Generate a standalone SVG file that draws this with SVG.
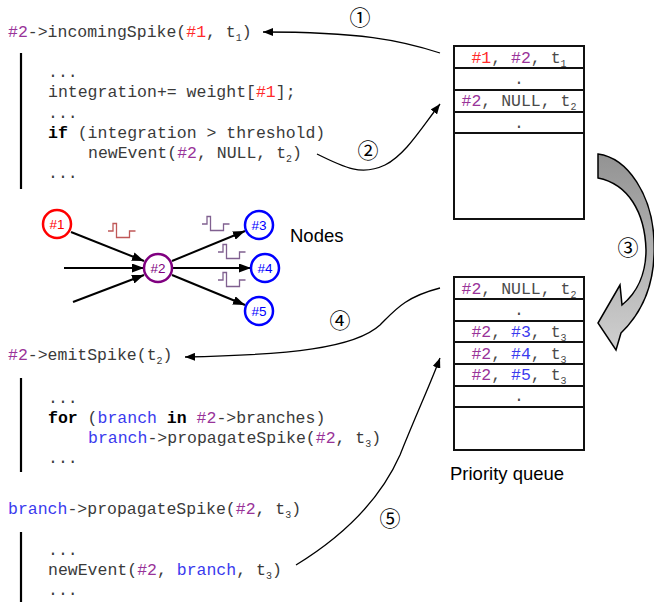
<svg xmlns="http://www.w3.org/2000/svg" width="654" height="602" viewBox="0 0 654 602">
<style>
.code{font-family:"Liberation Mono","DejaVu Sans Mono",monospace;font-size:16.5px;fill:#3a3a3a}
.q{font-family:"Liberation Mono","DejaVu Sans Mono",monospace;font-size:16.5px;fill:#4a4a4a;text-anchor:middle}
.p{fill:#993399}.r{fill:#ff2a2a}.b{fill:#3a3aee}.kw{font-weight:bold;fill:#000}
.sub{font-size:10px}
.bar{stroke:#000;stroke-width:2.2}
.qbox{fill:#fff;stroke:#111;stroke-width:2}
.conn{fill:none;stroke:#000;stroke-width:1.3}
.edge{fill:none;stroke:#000;stroke-width:2}
.num{font-family:"Noto Sans CJK JP","Noto Sans CJK SC","DejaVu Sans",sans-serif;font-size:21px;fill:#000;text-anchor:middle}
.lbl{font-family:"Liberation Sans",Arial,sans-serif;font-size:18.5px;fill:#000}
.nl{font-family:"Liberation Sans",Arial,sans-serif;font-size:13.5px;text-anchor:middle}
.spk{fill:none;stroke-width:1.3}
</style>
<defs>
<marker id="ah" markerWidth="10" markerHeight="8" refX="10" refY="4" orient="auto" markerUnits="userSpaceOnUse"><path d="M0,0 L10,4 L0,8 Z" fill="#000"/></marker>
<marker id="ah2" markerWidth="12" markerHeight="9" refX="12" refY="4.5" orient="auto" markerUnits="userSpaceOnUse"><path d="M0,0 L12,4.5 L0,9 Z" fill="#000"/></marker>
<linearGradient id="gg" x1="0" y1="0" x2="0" y2="1"><stop offset="0" stop-color="#939393"/><stop offset="1" stop-color="#cfcfcf"/></linearGradient>
<path id="spike" d="M0,0 h5 v-7.5 h3.5 v14 h13 v-6.5 h6"/>
</defs>

<g id="code1">
<text class="code" x="8" y="37"><tspan class="p">#2</tspan>-&gt;incomingSpike(<tspan class="r">#1</tspan>, t<tspan class="sub" dy="4">1</tspan><tspan dy="-4">)</tspan></text>
<line class="bar" x1="21" y1="53" x2="21" y2="189"/>
<text class="code" x="48" y="77">...</text>
<text class="code" x="48" y="97">integration+= weight[<tspan class="r">#1</tspan>];</text>
<text class="code" x="48" y="117.5">...</text>
<text class="code" x="48" y="138"><tspan class="kw">if</tspan> (integration &gt; threshold)</text>
<text class="code" x="88" y="158">newEvent(<tspan class="p">#2</tspan>, NULL, t<tspan class="sub" dy="4">2</tspan><tspan dy="-4">)</tspan></text>
<text class="code" x="48" y="178">...</text>
</g>

<g id="code2">
<text class="code" x="8" y="360"><tspan class="p">#2</tspan>-&gt;emitSpike(t<tspan class="sub" dy="4">2</tspan><tspan dy="-4">)</tspan></text>
<line class="bar" x1="21" y1="378" x2="21" y2="472"/>
<text class="code" x="48" y="403">...</text>
<text class="code" x="48" y="423"><tspan class="kw">for</tspan> (<tspan class="b">branch</tspan> <tspan class="kw">in</tspan> <tspan class="p">#2</tspan>-&gt;branches)</text>
<text class="code" x="88" y="443"><tspan class="b">branch</tspan>-&gt;propagateSpike(<tspan class="p">#2</tspan>, t<tspan class="sub" dy="4">3</tspan><tspan dy="-4">)</tspan></text>
<text class="code" x="48" y="463">...</text>
</g>

<g id="code3">
<text class="code" x="8" y="514"><tspan class="b">branch</tspan>-&gt;propagateSpike(<tspan class="p">#2</tspan>, t<tspan class="sub" dy="4">3</tspan><tspan dy="-4">)</tspan></text>
<line class="bar" x1="21" y1="532" x2="21" y2="602"/>
<text class="code" x="48" y="555">...</text>
<text class="code" x="48" y="575">newEvent(<tspan class="p">#2</tspan>, <tspan class="b">branch</tspan>, t<tspan class="sub" dy="4">3</tspan><tspan dy="-4">)</tspan></text>
<text class="code" x="48" y="595">...</text>
</g>

<g id="queue1">
<rect class="qbox" x="454" y="46" width="130" height="173"/>
<line class="qbox" x1="454" y1="68" x2="584" y2="68"/>
<line class="qbox" x1="454" y1="90" x2="584" y2="90"/>
<line class="qbox" x1="454" y1="112" x2="584" y2="112"/>
<line class="qbox" x1="454" y1="133" x2="584" y2="133"/>
<text class="q" x="519" y="62.5"><tspan class="r">#1</tspan>, <tspan class="p">#2</tspan>, t<tspan class="sub" dy="4">1</tspan></text>
<text class="q" x="519" y="84">.</text>
<text class="q" x="519" y="106"><tspan class="p">#2</tspan>, NULL, t<tspan class="sub" dy="4">2</tspan></text>
<text class="q" x="519" y="127.5">.</text>
</g>

<g id="queue2">
<rect class="qbox" x="454" y="277" width="130" height="173"/>
<line class="qbox" x1="454" y1="299" x2="584" y2="299"/>
<line class="qbox" x1="454" y1="321" x2="584" y2="321"/>
<line class="qbox" x1="454" y1="342" x2="584" y2="342"/>
<line class="qbox" x1="454" y1="364" x2="584" y2="364"/>
<line class="qbox" x1="454" y1="386" x2="584" y2="386"/>
<line class="qbox" x1="454" y1="407" x2="584" y2="407"/>
<text class="q" x="519" y="293.5"><tspan class="p">#2</tspan>, NULL, t<tspan class="sub" dy="4">2</tspan></text>
<text class="q" x="519" y="315">.</text>
<text class="q" x="519" y="337"><tspan class="p">#2</tspan>, <tspan class="b">#3</tspan>, t<tspan class="sub" dy="4">3</tspan></text>
<text class="q" x="519" y="358.5"><tspan class="p">#2</tspan>, <tspan class="b">#4</tspan>, t<tspan class="sub" dy="4">3</tspan></text>
<text class="q" x="519" y="380"><tspan class="p">#2</tspan>, <tspan class="b">#5</tspan>, t<tspan class="sub" dy="4">3</tspan></text>
<text class="q" x="519" y="401">.</text>
<text class="lbl" x="450" y="480">Priority queue</text>
</g>

<g id="bigarrow">
<path d="M598,154 C628,158 652,195 654,240 C656,280 645,310 621,333 L616,350 L598,323 L620,285 L622,305 C638,292 646,272 646,250 C645,212 628,184 598,178 Z" fill="url(#gg)" stroke="#000" stroke-width="1.5" stroke-linejoin="miter"/>
</g>

<g id="connectors">
<path class="conn" d="M440,53 C400,40 360,32 263,32" marker-end="url(#ah)"/>
<path class="conn" d="M317,154 C345,168 362,176 385,165 C405,155 420,130 440,104" marker-end="url(#ah)"/>
<path class="conn" d="M440,288 C405,297 395,310 380,325 C355,348 290,355 185,357" marker-end="url(#ah)"/>
<path class="conn" d="M296,565 C345,535 380,500 400,455 C418,410 430,385 440,358" marker-end="url(#ah)"/>
<line class="edge" x1="71" y1="232" x2="144" y2="261" marker-end="url(#ah2)"/>
<line class="edge" x1="64" y1="268" x2="144" y2="268" marker-end="url(#ah2)"/>
<line class="edge" x1="73" y1="302" x2="144" y2="275" marker-end="url(#ah2)"/>
<line class="edge" x1="172" y1="261" x2="245" y2="231" marker-end="url(#ah2)"/>
<line class="edge" x1="172" y1="268" x2="251" y2="268" marker-end="url(#ah2)"/>
<line class="edge" x1="172" y1="275" x2="245" y2="305" marker-end="url(#ah2)"/>
</g>

<g id="spikes">
<use href="#spike" x="108" y="231" class="spk" stroke="#c05858"/>
<use href="#spike" x="202" y="224" class="spk" stroke="#806090"/>
<use href="#spike" x="218" y="252" class="spk" stroke="#806090"/>
<use href="#spike" x="218" y="280" class="spk" stroke="#806090"/>
</g>

<g id="n1"><circle cx="57" cy="224" r="14" fill="#fff" stroke="#ff0000" stroke-width="2.5"/><text class="nl" x="57" y="229" fill="#ff0000">#1</text></g>
<g id="n2"><circle cx="158" cy="268" r="14" fill="#fff" stroke="#800080" stroke-width="2.5"/><text class="nl" x="158" y="273" fill="#800080">#2</text></g>
<g id="n3"><circle cx="259" cy="225" r="14" fill="#fff" stroke="#0000ff" stroke-width="2.5"/><text class="nl" x="259" y="230" fill="#0000ff">#3</text></g>
<g id="n4"><circle cx="265" cy="268" r="14" fill="#fff" stroke="#0000ff" stroke-width="2.5"/><text class="nl" x="265" y="273" fill="#0000ff">#4</text></g>
<g id="n5"><circle cx="259" cy="311" r="14" fill="#fff" stroke="#0000ff" stroke-width="2.5"/><text class="nl" x="259" y="316" fill="#0000ff">#5</text></g>
<text class="lbl" x="290" y="242">Nodes</text>

<g id="labels">
<text class="num" x="360" y="25">①</text>
<text class="num" x="368" y="158">②</text>
<text class="num" x="628" y="255">③</text>
<text class="num" x="340" y="328">④</text>
<text class="num" x="390" y="526">⑤</text>
</g>
</svg>
